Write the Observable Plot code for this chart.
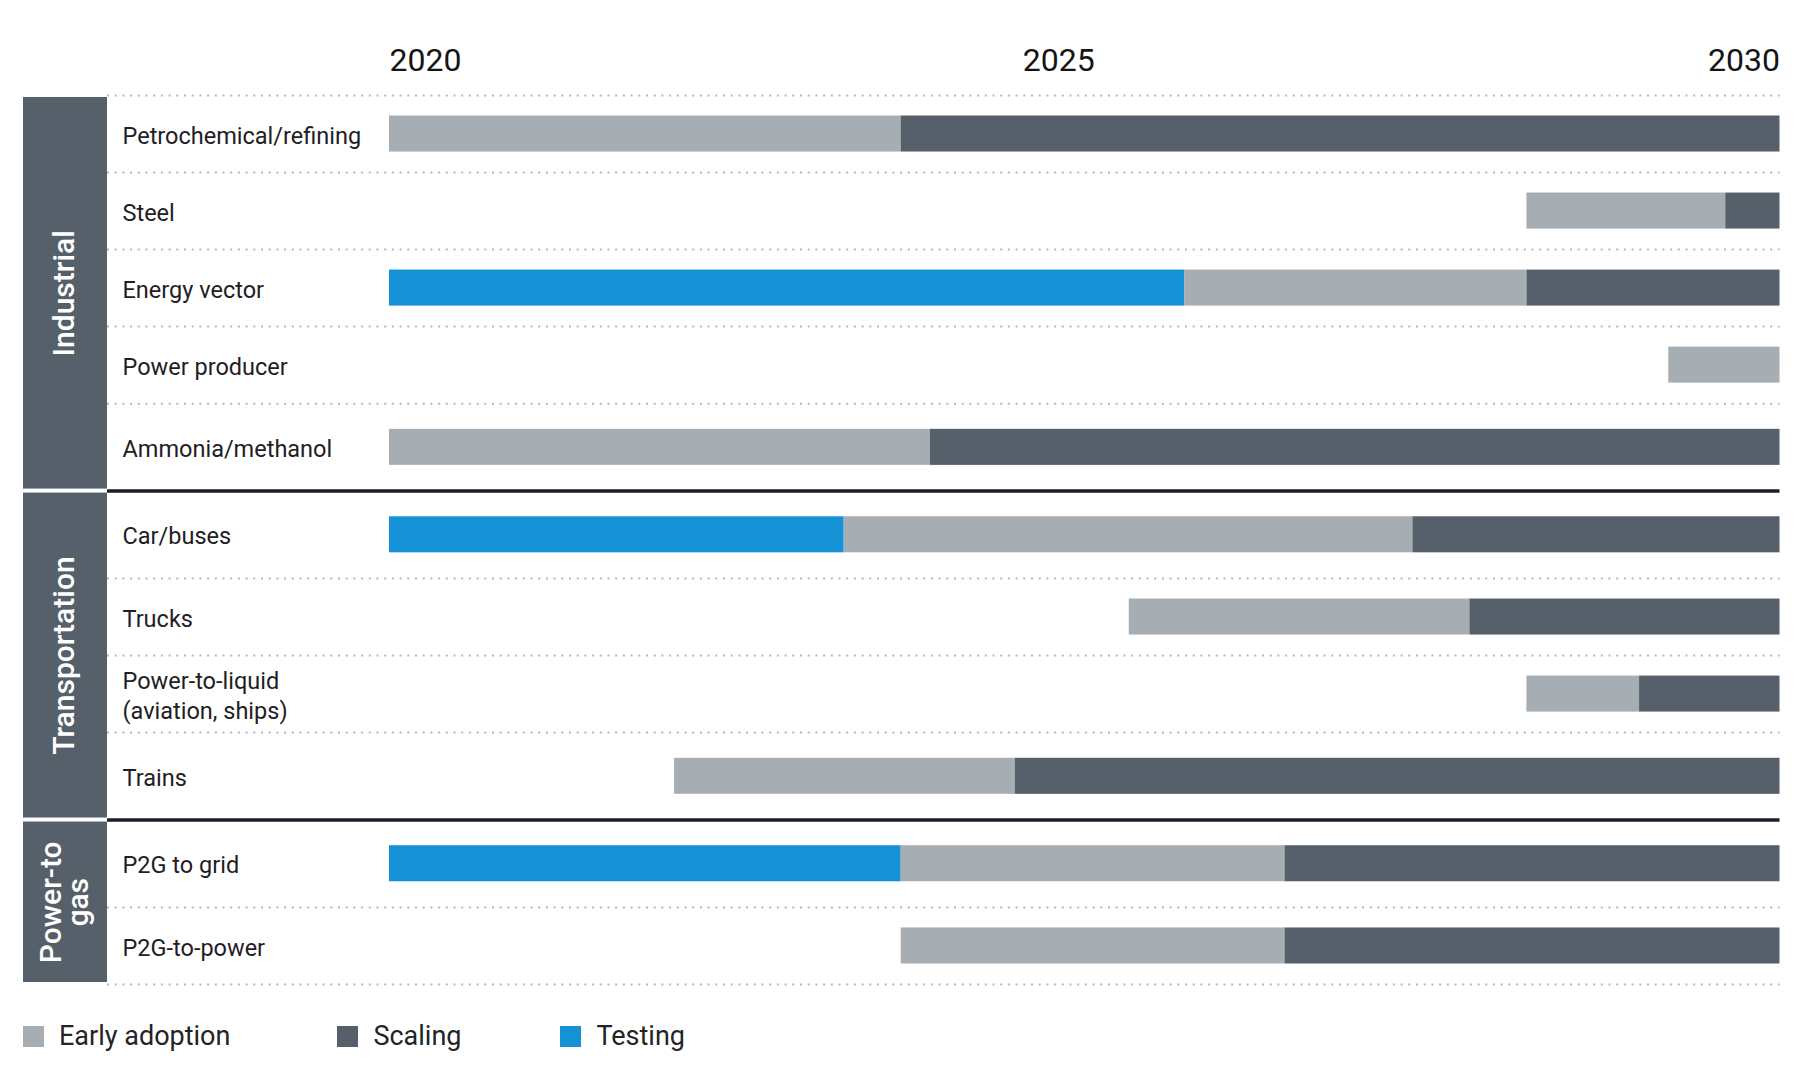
<!DOCTYPE html>
<html>
<head>
<meta charset="utf-8">
<script src="https://cdn.jsdelivr.net/npm/d3@7"></script>
<script src="https://cdn.jsdelivr.net/npm/@observablehq/plot@0.6"></script>
<style>
  html, body { margin: 0; padding: 0; background: #ffffff; }
  body { font-family: Roboto, "Open Sans", sans-serif; width: 1800px; }
  #legend { display: flex; align-items: center; margin-top: 21px; padding-left: 23px;
            font-size: 27px; color: #222428; line-height: 30px; }
  #legend .item { display: flex; align-items: center; }
  #legend .item:nth-child(1) { margin-right: 107px; }
  #legend .item:nth-child(2) { margin-right: 99px; }
  #legend .sw { width: 21px; height: 21px; margin-right: 15px; }
</style>
</head>
<body>
<div id="chart"></div>
<div id="legend"></div>
<script>
// ---------------- data ----------------
const rows = [
  "Petrochemical/refining",
  "Steel",
  "Energy vector",
  "Power producer",
  "Ammonia/methanol",
  "Car/buses",
  "Trucks",
  "Power-to-liquid\n(aviation, ships)",
  "Trains",
  "P2G to grid",
  "P2G-to-power"
];
const groups = ["Industrial", "Transportation", "Power-to\ngas"];
const rowGroup = [
  "Industrial", "Industrial", "Industrial", "Industrial", "Industrial",
  "Transportation", "Transportation", "Transportation", "Transportation",
  "Power-to\ngas", "Power-to\ngas"
];
const phases = ["Early adoption", "Scaling", "Testing"];
const phaseColors = ["#a7aeb3", "#56606b", "#1592d5"];

// start year of each phase per row (null = phase absent); every phase runs to the next one or to the end
const testingStart = [null, null, 2020, null, null, 2020, null, null, null, 2020, null];
const earlyStart   = [2020, 2028.18, 2025.72, 2029.2, 2020, 2023.27, 2025.32, 2028.18, 2022.05, 2023.68, 2023.68];
const scalingStart = [2023.68, 2029.61, 2028.18, null, 2023.89, 2027.36, 2027.77, 2028.99, 2024.5, 2026.44, 2026.44];
const endYear = 2030;
const yearTicks = [2020, 2025, 2030];

// ---------------- layout helpers ----------------
const GAP = 0.27; // extra space (in row units) between groups
const gIdx = rowGroup.map(g => groups.indexOf(g));
const slot = rows.map((r, i) => i + gIdx[i] * GAP);          // unshifted row slot
const isFirst = rows.map((r, i) => i === 0 || gIdx[i] !== gIdx[i - 1]);
const isLast = rows.map((r, i) => i === rows.length - 1 || gIdx[i] !== gIdx[i + 1]);
// rows next to a group boundary are centred in their enlarged slot
const pos = slot.map((s, i) =>
  s + (isLast[i] && i < rows.length - 1 ? GAP / 4 : 0) - (isFirst[i] && i > 0 ? GAP / 4 : 0));
const maxSlot = slot[slot.length - 1];

const segments = [];
rows.forEach((r, i) => {
  const starts = [
    {phase: "Testing", s: testingStart[i]},
    {phase: "Early adoption", s: earlyStart[i]},
    {phase: "Scaling", s: scalingStart[i]}
  ].filter(d => d.s != null);
  starts.forEach((d, k) => {
    const e = k + 1 < starts.length ? starts[k + 1].s : endYear;
    segments.push({row: r, pos: pos[i], phase: d.phase, start: d.s, end: e});
  });
});

const rowData = rows.map((r, i) => ({label: r, pos: pos[i]}));

const groupData = groups.map((g, gi) => {
  const idx = rows.map((r, i) => i).filter(i => gIdx[i] === gi);
  const first = idx[0], last = idx[idx.length - 1];
  const y1 = slot[first] - 0.5 - (gi > 0 ? GAP / 2 : 0);
  const y2 = slot[last] + 0.5 + (gi < groups.length - 1 ? GAP / 2 : 0);
  return {label: g, y1, y2, mid: (y1 + y2) / 2};
});

const dotted = [];
rows.forEach((r, i) => {
  if (!isFirst[i] || i === 0) dotted.push(slot[i] - 0.5);
});
dotted.push(maxSlot + 0.5);
const solid = groupData.slice(1).map(d => d.y1);

// ---------------- chart ----------------
const W = 1800, H = 1000;
const ML = 389, MR = 20.5, MT = 95, MB = 16;
const panelLeft = 23, panelRight = 107, labelX = 122;

const chart = Plot.plot({
  width: W,
  height: H,
  marginLeft: ML,
  marginRight: MR,
  marginTop: MT,
  marginBottom: MB,
  style: {fontFamily: "Roboto", fontSize: "24px", background: "#ffffff", overflow: "visible"},
  x: {domain: [2020, endYear], axis: null},
  y: {type: "linear", domain: [-0.5, maxSlot + 0.5], reverse: true, axis: null},
  color: {domain: phases, range: phaseColors},
  marks: [
    // group panels on the left
    Plot.rect(groupData, {
      y1: "y1", y2: "y2", fill: "#56606b",
      insetLeft: panelLeft - ML, insetRight: (W - MR) - panelRight,
      insetTop: 2, insetBottom: 2
    }),
    // dotted separators
    Plot.ruleY(dotted, {
      y: d => d, stroke: "#b3b8bc", strokeWidth: 2, strokeDasharray: "2 5.7",
      insetLeft: panelRight - ML
    }),
    // solid group separators
    Plot.ruleY(solid, {
      y: d => d, stroke: "#1b1c27", strokeWidth: 3.5,
      insetLeft: panelRight - ML
    }),
    // phase bars
    Plot.rect(segments, {
      x1: "start", x2: "end",
      y1: d => d.pos - 0.5, y2: d => d.pos + 0.5,
      fill: "phase", insetTop: 20.5, insetBottom: 20.5
    }),
    // row labels
    Plot.text(rowData, {
      y: "pos", text: "label", frameAnchor: "left", textAnchor: "start",
      dx: labelX - ML, fontSize: 23.5, fill: "#1f2024", lineHeight: 1.27
    }),
    // group labels (rotated)
    Plot.text(groupData, {
      y: "mid", text: "label", frameAnchor: "left", textAnchor: "middle",
      dx: (panelLeft + panelRight) / 2 - ML, rotate: -90, fill: "#ffffff",
      fontSize: 30, fontWeight: 500, lineHeight: 0.92
    }),
    // year labels
    Plot.text([yearTicks[0]], {
      x: d => d, text: d => String(d), frameAnchor: "top", lineAnchor: "middle",
      dy: -35, textAnchor: "start", fontSize: 32, fill: "#141414"
    }),
    Plot.text([yearTicks[1]], {
      x: d => d, text: d => String(d), frameAnchor: "top", lineAnchor: "middle",
      dy: -35, dx: -26, textAnchor: "middle", fontSize: 32, fill: "#141414"
    }),
    Plot.text([yearTicks[2]], {
      x: d => d, text: d => String(d), frameAnchor: "top", lineAnchor: "middle",
      dy: -35, textAnchor: "end", fontSize: 32, fill: "#141414"
    })
  ]
});
document.getElementById("chart").appendChild(chart);

// ---------------- legend ----------------
const legend = document.getElementById("legend");
phases.forEach((p, i) => {
  const item = document.createElement("div");
  item.className = "item";
  const sw = document.createElement("div");
  sw.className = "sw";
  sw.style.background = phaseColors[i];
  const lab = document.createElement("span");
  lab.textContent = p;
  item.appendChild(sw);
  item.appendChild(lab);
  legend.appendChild(item);
});
</script>
</body>
</html>
